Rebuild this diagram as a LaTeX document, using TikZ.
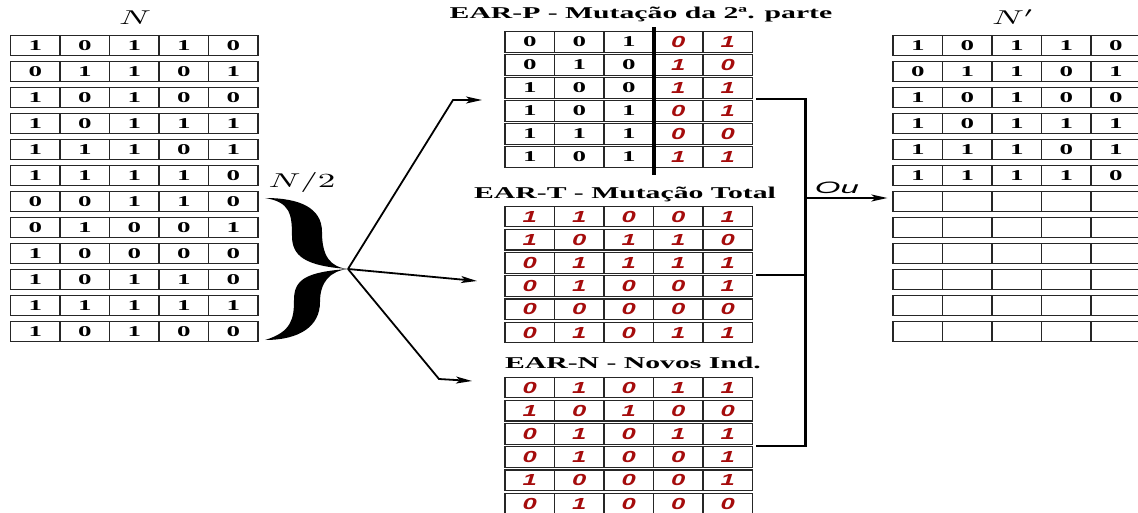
\documentclass[tikz,border=0pt]{standalone}
\usepackage{fontspec}
\usepackage{graphicx}
\setmainfont{Liberation Serif}
\newfontfamily\digsans{Liberation Sans}
\usetikzlibrary{arrows.meta,fit}
\definecolor{dred}{RGB}{165,12,12}
% wide lettering used throughout the figure
\newcommand\wx[1]{\scalebox{1.8}[1]{#1}}
\newcommand\bdig[1]{\scalebox{1.8}[1]{\fontsize{15}{16}\selectfont\bfseries #1}}
\newcommand\rdig[1]{\scalebox{1.6}[1]{\fontsize{16}{18}\selectfont\digsans\bfseries\itshape\color{dred}#1}}
\newcommand\ttl[1]{\wx{\fontsize{16.5}{18}\selectfont\bfseries #1}}
\newcommand\bigmath[1]{\scalebox{3.5}[2]{$#1$}}

\begin{document}
\begin{tikzpicture}[x=1pt,y=-1pt,
  cell/.style={draw=black!85, line width=1.2pt, minimum width=49.5pt,
    minimum height=20.5pt, inner sep=0pt},
  arr/.style={line width=1.8pt, -{Stealth[length=16pt,width=7pt,inset=4pt]}},
  conn/.style={line width=2pt},
  bus/.style={line width=3pt},
  lbl/.style={inner sep=0pt}]
\useasboundingbox[fill=white] (0,0) rectangle (1138,513);

% ---- population N ----
\foreach \row [count=\r] in {{1,0,1,1,0},{0,1,1,0,1},{1,0,1,0,0},{1,0,1,1,1},
  {1,1,1,0,1},{1,1,1,1,0},{0,0,1,1,0},{0,1,0,0,1},{1,0,0,0,0},{1,0,1,1,0},
  {1,1,1,1,1},{1,0,1,0,0}}
  \foreach \d [count=\c] in \row
    \node[cell] (L-\r-\c) at ({10.5+49.5*(\c-0.5)},{45.5+26*(\r-1)}) {\bdig{\d}};
\node[lbl] (lN) at (135,18) {\bigmath{N}};

% ---- EAR-P ----
\foreach \row [count=\r] in {{0,0,1,0,1},{0,1,0,1,0},{1,0,0,1,1},{1,0,1,0,1},
  {1,1,1,0,0},{1,0,1,1,1}}
  \foreach \d [count=\c] in \row
    \node[cell] (P-\r-\c) at ({505+49.5*(\c-0.5)},{42+23*(\r-1)})
      {\ifnum\c>3 \rdig{\d}\else\bdig{\d}\fi};
\node[fit=(P-1-1)(P-6-5), inner sep=0pt] (P) {};
\draw[line width=4pt] ([yshift=4pt]P-1-3.north east) -- ([yshift=-7pt]P-6-3.south east);
\node[lbl] (tP) at (641,15) {\ttl{EAR-P - Mutação da 2ª. parte}};

% ---- EAR-T ----
\foreach \row [count=\r] in {{1,1,0,0,1},{1,0,1,1,0},{0,1,1,1,1},{0,1,0,0,1},
  {0,0,0,0,0},{0,1,0,1,1}}
  \foreach \d [count=\c] in \row
    \node[cell] (T-\r-\c) at ({505+49.5*(\c-0.5)},{216.5+23.2*(\r-1)}) {\rdig{\d}};
\node[fit=(T-1-1)(T-6-5), inner sep=0pt] (T) {};
\node[lbl] (tT) at (625,194) {\ttl{EAR-T - Mutação Total}};

% ---- EAR-N ----
\foreach \row [count=\r] in {{0,1,0,1,1},{1,0,1,0,0},{0,1,0,1,1},{0,1,0,0,1},
  {1,0,0,0,1},{0,1,0,0,0}}
  \foreach \d [count=\c] in \row
    \node[cell] (E-\r-\c) at ({505+49.5*(\c-0.5)},{387.5+23.2*(\r-1)}) {\rdig{\d}};
\node[fit=(E-1-1)(E-6-5), inner sep=0pt] (E) {};
\node[lbl] (tE) at (633,363) {\ttl{EAR-N - Novos Ind.}};

% ---- population N' ----
\foreach \row [count=\r] in {{1,0,1,1,0},{0,1,1,0,1},{1,0,1,0,0},{1,0,1,1,1},
  {1,1,1,0,1},{1,1,1,1,0}}
  \foreach \d [count=\c] in \row
    \node[cell] (R-\r-\c) at ({893+49.5*(\c-0.5)},{45.5+26*(\r-1)}) {\bdig{\d}};
\foreach \r in {7,...,12}
  \foreach \c in {1,...,5}
    \node[cell] (R-\r-\c) at ({893+49.5*(\c-0.5)},{45.5+26*(\r-1)}) {};
\node[lbl] (lNp) at (1013,17) {\bigmath{N'}};

% ---- brace over the second half ----
\fill (265,198) .. controls (300,198) and (322,208) .. (322,232)
  .. controls (322,256) and (330,267) .. (348,269)
  .. controls (330,271) and (320,282) .. (320,302)
  .. controls (320,326) and (300,340) .. (265,340)
  .. controls (292,332) and (294,318) .. (294,300)
  .. controls (294,280) and (305,272) .. (348,269)
  .. controls (305,266) and (292,256) .. (292,236)
  .. controls (292,214) and (290,202) .. (265,198) -- cycle;
\coordinate (tip) at (348,269);
\node[lbl] (lHalf) at (302,183) {\bigmath{N/2}};

% ---- arrows to the three strategies ----
\coordinate (bP) at (453,100);
\coordinate (aP) at (482,100);
\coordinate (aT) at (477,281);
\coordinate (bE) at (439,379);
\coordinate (aE) at (472,381);
\draw[arr] (tip) -- (bP) -- (aP);
\draw[arr] (tip) -- (aT);
\draw[arr] (tip) -- (bE) -- (aE);

% ---- merging into N' ----
\coordinate (bus) at (805,0);
\draw[conn] ([xshift=3pt]P.east) -- (P.east -| bus);
\draw[conn] ([xshift=3pt]T.east) -- (T.east -| bus);
\draw[conn] ([xshift=3pt]E.east) -- (E.east -| bus);
\draw[bus] ([yshift=1pt]P.east -| bus) -- ([yshift=-1pt]E.east -| bus);
\coordinate (ou) at (805,198);
\draw[arr, shorten >=5pt] (ou) -- (ou -| R-7-1.west);
\node[lbl] (lOu) at (837,188) {\scalebox{2}[1]{\fontsize{16.5}{18}\selectfont\digsans\itshape Ou}};
\end{tikzpicture}
\end{document}
